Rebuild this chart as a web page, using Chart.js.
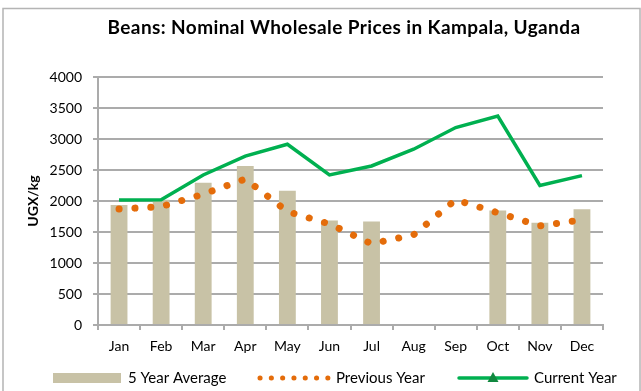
<!DOCTYPE html>
<html>
<head>
<meta charset="utf-8">
<script src="https://cdn.jsdelivr.net/npm/chart.js@4"></script>
<style>
  html, body { margin: 0; padding: 0; background: #fff; }
  #wrap { width: 641px; height: 391px; }
</style>
</head>
<body>
<div id="wrap"><canvas id="pricesChart" width="641" height="391"></canvas></div>
<script>
  // Monthly bean prices, UGX/kg
  const months = ["Jan", "Feb", "Mar", "Apr", "May", "Jun", "Jul", "Aug", "Sep", "Oct", "Nov", "Dec"];
  const fiveYearAverage = [1935, 2020, 2295, 2565, 2165, 1685, 1670, null, null, 1845, 1650, 1865];
  const previousYear = [1870, 1910, 2110, 2355, 1830, 1630, 1310, 1455, 2020, 1810, 1600, 1695];
  const currentYear = [2015, 2020, 2420, 2725, 2915, 2420, 2565, 2835, 3185, 3370, 2250, 2410];
  const yTicks = [0, 500, 1000, 1500, 2000, 2500, 3000, 3500, 4000];

  const FONT = "Lato";
  const barColor = "#C8C2A6";
  const orange = "#E46C0A";
  const green = "#00B050";
  const gridColor = "#ABABAB";

  // Frame, title and legend are drawn by hand
  const decorations = {
    id: "decorations",
    beforeDraw(chart) {
      const ctx = chart.ctx;
      ctx.save();
      ctx.fillStyle = "#fff";
      ctx.fillRect(0, 0, chart.width, chart.height);
      ctx.strokeStyle = "#B4B4B4";
      ctx.lineWidth = 1.5;
      ctx.strokeRect(3, 8.5, 637, 420);
      ctx.restore();
    },
    afterDraw(chart) {
      const ctx = chart.ctx;
      ctx.save();
      ctx.fillStyle = "#000";
      ctx.textBaseline = "middle";
      ctx.font = "bold 19px " + FONT;
      ctx.letterSpacing = "0.4px";
      ctx.textAlign = "center";
      ctx.fillText("Beans: Nominal Wholesale Prices in Kampala, Uganda", 344, 28);
      ctx.letterSpacing = "0px";

      const ly = 378;
      ctx.font = "15px " + FONT;
      ctx.textAlign = "left";

      // 5 Year Average
      ctx.fillStyle = barColor;
      ctx.fillRect(53, ly - 5, 68, 10);
      ctx.fillStyle = "#000";
      ctx.fillText("5 Year Average", 128, ly);

      // Previous Year
      ctx.strokeStyle = orange;
      ctx.lineWidth = 5;
      ctx.lineCap = "round";
      ctx.setLineDash([0.1, 11.2]);
      ctx.beginPath();
      ctx.moveTo(260, ly);
      ctx.lineTo(328, ly);
      ctx.stroke();
      ctx.setLineDash([]);
      ctx.fillText("Previous Year", 336, ly);

      // Current Year
      ctx.strokeStyle = green;
      ctx.lineWidth = 3.5;
      ctx.lineCap = "round";
      ctx.beginPath();
      ctx.moveTo(459, ly);
      ctx.lineTo(527, ly);
      ctx.stroke();
      ctx.fillStyle = "#11883F";
      ctx.beginPath();
      ctx.moveTo(493, ly - 6);
      ctx.lineTo(498.5, ly + 4);
      ctx.lineTo(487.5, ly + 4);
      ctx.closePath();
      ctx.fill();
      ctx.fillStyle = "#000";
      ctx.fillText("Current Year", 534, ly);
      ctx.restore();
    }
  };

  const ctx = document.getElementById("pricesChart").getContext("2d");
  const pricesChart = new Chart(ctx, {
    type: "bar",
    data: {
      labels: months,
      datasets: [
        {
          type: "line",
          label: "Current Year",
          data: currentYear,
          borderColor: green,
          borderWidth: 3.5,
          pointRadius: 0,
          tension: 0,
          order: 0,
        },
        {
          type: "line",
          label: "Previous Year",
          data: previousYear,
          borderColor: orange,
          borderWidth: 7,
          borderDash: [0.1, 15.8],
          borderCapStyle: "round",
          pointRadius: 0,
          tension: 0,
          order: 1,
        },
        {
          label: "5 Year Average",
          data: fiveYearAverage,
          backgroundColor: barColor,
          categoryPercentage: 1,
          barPercentage: 0.4,
          order: 2,
        },
      ],
    },
    options: {
      responsive: false,
      animation: false,
      events: [],
      layout: { padding: { top: 77, right: 38, left: 0, bottom: 0 } },
      plugins: {
        legend: { display: false },
        title: { display: false },
        tooltip: { enabled: false },
      },
      scales: {
        x: {
          offset: true,
          grid: {
            offset: true,
            drawOnChartArea: false,
            tickLength: 5,
            color: gridColor,
            lineWidth: 2,
          },
          border: { color: gridColor, width: 2 },
          ticks: {
            color: "#000",
            padding: 8,
            maxRotation: 0,
            font: { family: FONT, size: 14 },
          },
          afterFit(scale) {
            scale.height = 66;
          },
        },
        y: {
          min: 0,
          max: 4000,
          afterBuildTicks(scale) {
            scale.ticks = yTicks.map((v) => ({ value: v }));
          },
          grid: { color: gridColor, lineWidth: 2, tickLength: 5 },
          border: { color: gridColor, width: 2 },
          ticks: {
            color: "#000",
            padding: 11,
            font: { family: FONT, size: 14 },
            callback: (value) => String(value),
          },
          title: {
            display: true,
            text: "UGX/kg",
            color: "#000",
            font: { family: FONT, size: 14, weight: "bold" },
            padding: { top: 25, bottom: 0 },
          },
          afterFit(scale) {
            scale.width = 98;
          },
        },
      },
    },
    plugins: [decorations],
  });
</script>
</body>
</html>
